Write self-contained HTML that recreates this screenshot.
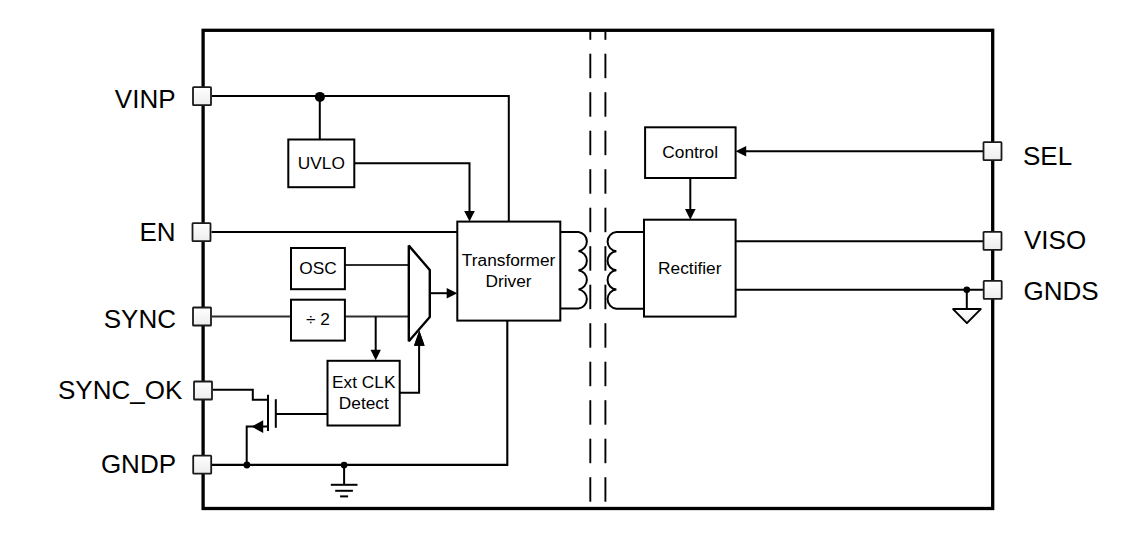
<!DOCTYPE html>
<html><head><meta charset="utf-8"><style>
html,body{margin:0;padding:0;background:#fff;}
svg{display:block;}
text{font-family:"Liberation Sans", sans-serif;fill:#000;}
</style></head><body>
<svg width="1135" height="543" viewBox="0 0 1135 543">
<defs>
<linearGradient id="pg" x1="0" y1="0" x2="0" y2="1"><stop offset="0" stop-color="#ffffff"/><stop offset="1" stop-color="#ececec"/></linearGradient>
<linearGradient id="tg" x1="0" y1="0" x2="0" y2="1"><stop offset="0" stop-color="#ffffff"/><stop offset="1" stop-color="#ececec"/></linearGradient>
</defs>
<rect width="1135" height="543" fill="#fff"/>
<rect x="203.1" y="30.3" width="789.6" height="478.2" fill="none" stroke="#000" stroke-width="3.3"/>
<line x1="590.3" y1="32.0" x2="590.3" y2="39.8" stroke="#000" stroke-width="1.9"/>
<line x1="590.3" y1="53.7" x2="590.3" y2="78.2" stroke="#000" stroke-width="1.9"/>
<line x1="590.3" y1="92.2" x2="590.3" y2="116.7" stroke="#000" stroke-width="1.9"/>
<line x1="590.3" y1="130.7" x2="590.3" y2="155.2" stroke="#000" stroke-width="1.9"/>
<line x1="590.3" y1="169.2" x2="590.3" y2="193.7" stroke="#000" stroke-width="1.9"/>
<line x1="590.3" y1="207.7" x2="590.3" y2="232.2" stroke="#000" stroke-width="1.9"/>
<line x1="590.3" y1="246.2" x2="590.3" y2="270.7" stroke="#000" stroke-width="1.9"/>
<line x1="590.3" y1="284.7" x2="590.3" y2="309.2" stroke="#000" stroke-width="1.9"/>
<line x1="590.3" y1="323.2" x2="590.3" y2="347.7" stroke="#000" stroke-width="1.9"/>
<line x1="590.3" y1="361.7" x2="590.3" y2="386.2" stroke="#000" stroke-width="1.9"/>
<line x1="590.3" y1="400.2" x2="590.3" y2="424.7" stroke="#000" stroke-width="1.9"/>
<line x1="590.3" y1="438.7" x2="590.3" y2="463.2" stroke="#000" stroke-width="1.9"/>
<line x1="590.3" y1="477.2" x2="590.3" y2="501.7" stroke="#000" stroke-width="1.9"/>
<line x1="605.4" y1="32.0" x2="605.4" y2="39.8" stroke="#000" stroke-width="1.9"/>
<line x1="605.4" y1="53.7" x2="605.4" y2="78.2" stroke="#000" stroke-width="1.9"/>
<line x1="605.4" y1="92.2" x2="605.4" y2="116.7" stroke="#000" stroke-width="1.9"/>
<line x1="605.4" y1="130.7" x2="605.4" y2="155.2" stroke="#000" stroke-width="1.9"/>
<line x1="605.4" y1="169.2" x2="605.4" y2="193.7" stroke="#000" stroke-width="1.9"/>
<line x1="605.4" y1="207.7" x2="605.4" y2="232.2" stroke="#000" stroke-width="1.9"/>
<line x1="605.4" y1="246.2" x2="605.4" y2="270.7" stroke="#000" stroke-width="1.9"/>
<line x1="605.4" y1="284.7" x2="605.4" y2="309.2" stroke="#000" stroke-width="1.9"/>
<line x1="605.4" y1="323.2" x2="605.4" y2="347.7" stroke="#000" stroke-width="1.9"/>
<line x1="605.4" y1="361.7" x2="605.4" y2="386.2" stroke="#000" stroke-width="1.9"/>
<line x1="605.4" y1="400.2" x2="605.4" y2="424.7" stroke="#000" stroke-width="1.9"/>
<line x1="605.4" y1="438.7" x2="605.4" y2="463.2" stroke="#000" stroke-width="1.9"/>
<line x1="605.4" y1="477.2" x2="605.4" y2="501.7" stroke="#000" stroke-width="1.9"/>
<path d="M212,96.1 L508.8,96.1 L508.8,221.6" fill="none" stroke="#000" stroke-width="2" stroke-linejoin="miter" stroke-linecap="butt"/>
<path d="M319.8,96.1 L319.8,139.5" fill="none" stroke="#000" stroke-width="2" stroke-linejoin="miter" stroke-linecap="butt"/>
<circle cx="319.9" cy="96.9" r="5" fill="#000"/>
<path d="M354.3,163.2 L469.5,163.2 L469.5,212" fill="none" stroke="#000" stroke-width="2" stroke-linejoin="miter" stroke-linecap="butt"/>
<polygon points="469.50,221.60 464.20,211.00 474.80,211.00" fill="#000"/>
<path d="M211.5,232.1 L457.3,232.1" fill="none" stroke="#000" stroke-width="2" stroke-linejoin="miter" stroke-linecap="butt"/>
<path d="M345,265 L409,265" fill="none" stroke="#2e2e2e" stroke-width="2" stroke-linejoin="miter" stroke-linecap="butt"/>
<path d="M212,316.6 L291,316.6" fill="none" stroke="#2e2e2e" stroke-width="2" stroke-linejoin="miter" stroke-linecap="butt"/>
<path d="M345,316.6 L409,316.6" fill="none" stroke="#2e2e2e" stroke-width="2" stroke-linejoin="miter" stroke-linecap="butt"/>
<path d="M375.7,316.5 L375.7,350" fill="none" stroke="#000" stroke-width="2" stroke-linejoin="miter" stroke-linecap="butt"/>
<polygon points="375.70,360.20 370.50,349.80 380.90,349.80" fill="#000"/>
<path d="M430,293.2 L447,293.2" fill="none" stroke="#000" stroke-width="2" stroke-linejoin="miter" stroke-linecap="butt"/>
<polygon points="457.30,293.20 446.70,287.90 446.70,298.50" fill="#000"/>
<path d="M399.7,392.8 L419.1,392.8 L419.1,345" fill="none" stroke="#000" stroke-width="2" stroke-linejoin="miter" stroke-linecap="butt"/>
<polygon points="419.30,330.50 414.00,345.70 424.60,345.70" fill="#000"/>
<path d="M213,389.7 L252.8,389.7 L252.8,399.7 L268,399.7" fill="none" stroke="#000" stroke-width="2" stroke-linejoin="miter" stroke-linecap="butt"/>
<path d="M268,394.8 L268,431" fill="none" stroke="#000" stroke-width="2" stroke-linejoin="miter" stroke-linecap="butt"/>
<path d="M275.8,399.2 L275.8,427.8" fill="none" stroke="#000" stroke-width="2" stroke-linejoin="miter" stroke-linecap="butt"/>
<path d="M275.8,413.9 L327.5,413.9" fill="none" stroke="#000" stroke-width="2" stroke-linejoin="miter" stroke-linecap="butt"/>
<path d="M268,426.6 L246.7,426.6 L246.7,465" fill="none" stroke="#000" stroke-width="2" stroke-linejoin="miter" stroke-linecap="butt"/>
<polygon points="251.6,426.6 263.2,420.2 263.2,433" fill="#000"/>
<circle cx="246.9" cy="465" r="3.4" fill="#000"/>
<path d="M212,464.9 L507.3,464.9 L507.3,320.6" fill="none" stroke="#000" stroke-width="2.1" stroke-linejoin="miter" stroke-linecap="butt"/>
<circle cx="344.1" cy="465" r="3.35" fill="#000"/>
<path d="M344.1,465 L344.1,484.8" fill="none" stroke="#000" stroke-width="2" stroke-linejoin="miter" stroke-linecap="butt"/>
<path d="M330.8,484.8 L357.5,484.8" fill="none" stroke="#000" stroke-width="2" stroke-linejoin="miter" stroke-linecap="butt"/>
<path d="M335.2,490.8 L352.9,490.8" fill="none" stroke="#000" stroke-width="2" stroke-linejoin="miter" stroke-linecap="butt"/>
<path d="M340.1,496.4 L348.1,496.4" fill="none" stroke="#000" stroke-width="2" stroke-linejoin="miter" stroke-linecap="butt"/>
<path d="M560.3,232 L578.5,232 A9.65,9.65 0 0 1 578.5,251.125 A9.65,9.65 0 0 1 578.5,270.250 A9.65,9.65 0 0 1 578.5,289.375 A9.65,9.65 0 0 1 578.5,308.500 L560.3,308.5" fill="none" stroke="#000" stroke-width="2"/>
<path d="M644,232 L616.4,232 A9.62,9.62 0 0 0 616.4,251.175 A9.62,9.62 0 0 0 616.4,270.350 A9.62,9.62 0 0 0 616.4,289.525 A9.62,9.62 0 0 0 616.4,308.700 L644,308.7" fill="none" stroke="#000" stroke-width="2"/>
<path d="M983,151.2 L746,151.2" fill="none" stroke="#000" stroke-width="2" stroke-linejoin="miter" stroke-linecap="butt"/>
<polygon points="735.60,151.20 746.20,145.90 746.20,156.50" fill="#000"/>
<path d="M690.3,178 L690.3,210" fill="none" stroke="#000" stroke-width="2" stroke-linejoin="miter" stroke-linecap="butt"/>
<polygon points="690.30,219.70 685.00,209.10 695.60,209.10" fill="#000"/>
<path d="M735.6,241.2 L983,241.2" fill="none" stroke="#000" stroke-width="2" stroke-linejoin="miter" stroke-linecap="butt"/>
<path d="M735.6,289.8 L983,289.8" fill="none" stroke="#000" stroke-width="2" stroke-linejoin="miter" stroke-linecap="butt"/>
<circle cx="966.8" cy="289.7" r="3.3" fill="#000"/>
<path d="M966.8,289.7 L966.8,309" fill="none" stroke="#000" stroke-width="2" stroke-linejoin="miter" stroke-linecap="butt"/>
<polygon points="953.1,309.1 980.7,309.1 966.9,323.1" fill="url(#tg)" stroke="#000" stroke-width="2" stroke-linejoin="round"/>
<rect x="288.3" y="139.5" width="66.00" height="47.70" fill="#fff" stroke="#000" stroke-width="2"/>
<rect x="291" y="248" width="53.90" height="41.20" fill="#fff" stroke="#000" stroke-width="2"/>
<rect x="291" y="299.7" width="53.90" height="40.90" fill="#fff" stroke="#000" stroke-width="2"/>
<rect x="327.5" y="360.8" width="72.20" height="64.70" fill="#fff" stroke="#000" stroke-width="2"/>
<rect x="457.3" y="221.6" width="103.00" height="99.00" fill="#fff" stroke="#000" stroke-width="2"/>
<rect x="645.1" y="127.3" width="90.50" height="50.70" fill="#fff" stroke="#000" stroke-width="2"/>
<rect x="644" y="219.7" width="91.60" height="96.90" fill="#fff" stroke="#000" stroke-width="2"/>
<polygon points="408.8,245.6 429.8,270 429.8,317 408.8,341.2" fill="#fff" stroke="#000" stroke-width="2.4" stroke-linejoin="bevel"/>
<polygon points="419.30,330.50 414.00,345.70 424.60,345.70" fill="#000"/>
<text x="321.3" y="169.3" font-size="17.3" text-anchor="middle">UVLO</text>
<text x="318" y="274" font-size="17.3" text-anchor="middle">OSC</text>
<text x="318" y="324.7" font-size="17.3" text-anchor="middle">÷ 2</text>
<text x="363.8" y="387.9" font-size="17.3" text-anchor="middle">Ext CLK</text>
<text x="363.8" y="409" font-size="17.3" text-anchor="middle">Detect</text>
<text x="508.6" y="266" font-size="17.3" text-anchor="middle">Transformer</text>
<text x="508.6" y="287" font-size="17.3" text-anchor="middle">Driver</text>
<text x="690.2" y="158" font-size="17.3" text-anchor="middle">Control</text>
<text x="689.8" y="274" font-size="17.3" text-anchor="middle">Rectifier</text>
<rect x="193.00" y="87.10" width="18.0" height="18.0" rx="0.6" fill="url(#pg)" stroke="#1a1a1a" stroke-width="1.8"/>
<rect x="192.50" y="223.10" width="18.0" height="18.0" rx="0.6" fill="url(#pg)" stroke="#1a1a1a" stroke-width="1.8"/>
<rect x="193.00" y="307.50" width="18.0" height="18.0" rx="0.6" fill="url(#pg)" stroke="#1a1a1a" stroke-width="1.8"/>
<rect x="194.00" y="381.50" width="18.0" height="18.0" rx="0.6" fill="url(#pg)" stroke="#1a1a1a" stroke-width="1.8"/>
<rect x="193.20" y="455.60" width="18.0" height="18.0" rx="0.6" fill="url(#pg)" stroke="#1a1a1a" stroke-width="1.8"/>
<rect x="983.50" y="142.10" width="18.0" height="18.0" rx="0.6" fill="url(#pg)" stroke="#1a1a1a" stroke-width="1.8"/>
<rect x="983.50" y="231.90" width="18.0" height="18.0" rx="0.6" fill="url(#pg)" stroke="#1a1a1a" stroke-width="1.8"/>
<rect x="983.70" y="280.80" width="18.0" height="18.0" rx="0.6" fill="url(#pg)" stroke="#1a1a1a" stroke-width="1.8"/>
<text x="175.5" y="107.9" font-size="26" text-anchor="end">VINP</text>
<text x="175.5" y="241.1" font-size="26" text-anchor="end">EN</text>
<text x="176" y="327.8" font-size="26" text-anchor="end">SYNC</text>
<text x="58" y="398.8" font-size="26" text-anchor="start">SYNC_OK</text>
<text x="176" y="472.8" font-size="26" text-anchor="end">GNDP</text>
<text x="1023" y="164.7" font-size="26" text-anchor="start">SEL</text>
<text x="1024" y="248.5" font-size="26" text-anchor="start">VISO</text>
<text x="1023.5" y="299.8" font-size="26" text-anchor="start">GNDS</text>
</svg>
</body></html>
